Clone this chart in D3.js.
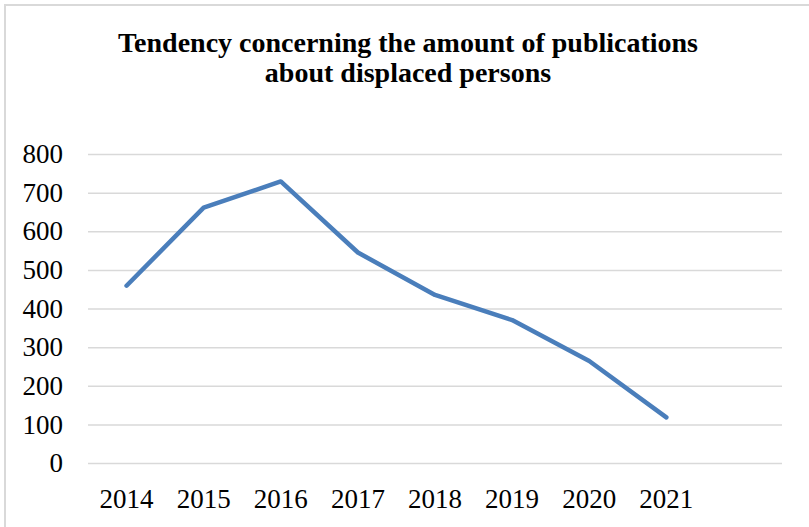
<!DOCTYPE html>
<html>
<head>
<meta charset="utf-8">
<script src="https://cdn.jsdelivr.net/npm/d3@7"></script>
<style>
  body { margin: 0; background: #fff; }
  svg { display: block; }
  svg text { font-family: "Liberation Serif", "Times New Roman", Times, "DejaVu Serif", serif; }
</style>
</head>
<body>
<svg id="chart" width="809" height="527"></svg>
<script>
const years = ["2014", "2015", "2016", "2017", "2018", "2019", "2020", "2021", ""];
const publications = [459, 661, 729, 545, 435, 370, 264, 118];
const yTicks = [0, 100, 200, 300, 400, 500, 600, 700, 800];
const titleLines = ["Tendency concerning the amount of publications", "about displaced persons"];

const margin = {top: 154, right: 27, bottom: 64, left: 88};
const width = 809 - margin.left - margin.right;
const height = 527 - margin.top - margin.bottom;
const font = '"Liberation Serif", "Times New Roman", Times, "DejaVu Serif", serif';

const svg = d3.select("#chart");

// outer frame (right/bottom edges fall outside the picture)
svg.append("rect")
    .attr("x", 5).attr("y", 5)
    .attr("width", 830).attr("height", 560)
    .attr("fill", "none")
    .attr("stroke", "#d9d9d9")
    .attr("stroke-width", 2);

svg.append("g")
    .selectAll("text")
    .data(titleLines)
    .enter()
    .append("text")
    .attr("x", 408)
    .attr("y", (d, i) => 52 + i * 30)
    .attr("text-anchor", "middle")
    .attr("font-family", font)
    .attr("font-weight", "bold")
    .attr("font-size", 28)
    .text(d => d);

const g = svg.append("g")
    .attr("transform", `translate(${margin.left},${margin.top})`);

const x = d3.scaleBand()
    .domain(years.map((d, i) => i))
    .range([0, width]);

const y = d3.scaleLinear()
    .domain([0, 800])
    .range([height, 0]);

// gridlines
g.append("g")
    .call(d3.axisLeft(y).tickValues(yTicks).tickSize(-width).tickFormat(""))
    .call(a => a.select(".domain").remove())
    .selectAll("line")
    .attr("stroke", "#d9d9d9")
    .attr("stroke-width", 1.5);

// y labels
g.append("g")
    .call(d3.axisLeft(y).tickValues(yTicks).tickSize(0).tickPadding(25))
    .attr("font-family", font)
    .attr("font-size", 27)
    .call(a => a.select(".domain").remove())
    .selectAll("text")
    .attr("fill", "#000");

// x labels
g.append("g")
    .attr("transform", `translate(0,${height})`)
    .call(d3.axisBottom(x).tickSize(0).tickPadding(26).tickFormat(i => years[i]))
    .attr("font-family", font)
    .attr("font-size", 27)
    .call(a => a.select(".domain").remove())
    .selectAll("text")
    .attr("fill", "#000");

const line = d3.line()
    .x((d, i) => x(i) + x.bandwidth() / 2)
    .y(d => y(d));

g.append("path")
    .datum(publications)
    .attr("fill", "none")
    .attr("stroke", "#4a7ebb")
    .attr("stroke-width", 4.5)
    .attr("stroke-linejoin", "round")
    .attr("stroke-linecap", "round")
    .attr("d", line);
</script>
</body>
</html>
